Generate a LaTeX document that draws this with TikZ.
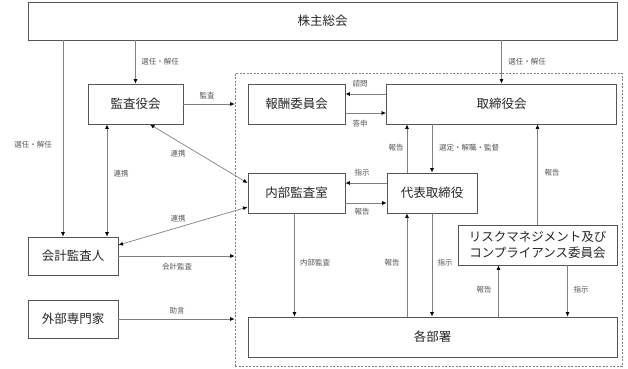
\documentclass[tikz,border=0pt]{standalone}
\usepackage{fontspec}
\setmainfont{Noto Sans CJK JP}
\usetikzlibrary{arrows.meta}
\definecolor{boxline}{HTML}{555555}
\definecolor{conn}{HTML}{808080}
\definecolor{lbl}{HTML}{555555}
\tikzset{
  box/.style={draw=boxline, line width=0.9pt, rectangle, inner sep=0pt, font=\fontsize{12.5}{15}\selectfont, text=black!85, align=center},
  grpbox/.style={draw=conn, line width=0.7pt, dash pattern=on 2pt off 1.5pt, rectangle, inner sep=0pt},
  arr/.style={draw=conn, line width=0.7pt, -{Latex[length=4.5pt,width=4pt,color=black]}},
  darr/.style={draw=conn, line width=0.7pt, {Latex[length=4.5pt,width=4pt,color=black]}-{Latex[length=4.5pt,width=4pt,color=black]}},
  plain/.style={draw=conn, line width=0.7pt},
  lab/.style={font=\fontsize{7.5}{9}\selectfont, text=lbl, inner sep=0pt}
}
\begin{document}
\begin{tikzpicture}[x=1pt,y=-1pt]
\useasboundingbox[fill=white] (0,0) rectangle (628,368);
% group
\node[grpbox, minimum width=387, minimum height=293] (grp) at (428.5,219.5) {};
% boxes
\node[box, minimum width=589, minimum height=38] (kabu) at (322.5,21) {株主総会};
\node[box, minimum width=95, minimum height=40] (kansa) at (135.5,104) {監査役会};
\node[box, minimum width=97, minimum height=40] (hoshu) at (296.5,104) {報酬委員会};
\node[box, minimum width=230, minimum height=40] (tori) at (501.5,104) {取締役会};
\node[box, minimum width=97, minimum height=40] (naibu) at (296.5,193) {内部監査室};
\node[box, minimum width=90, minimum height=40] (daihyo) at (432,193) {代表取締役};
\node[box, minimum width=159, minimum height=40, font=\fontsize{12.5}{16}\selectfont] (risk) at (537.5,245) {リスクマネジメント及び\\コンプライアンス委員会};
\node[box, minimum width=369, minimum height=40] (kakubu) at (432.5,337) {各部署};
\node[box, minimum width=90, minimum height=38] (kaikei) at (73,256) {会計監査人};
\node[box, minimum width=90, minimum height=38] (gaibu) at (73,319) {外部専門家};
% helper coordinates
\coordinate (kl) at ([xshift=-10pt]kabu.south -| kaikei.north);
\coordinate (kk) at ([xshift=-28.5pt]kansa.south);
\coordinate (d1) at ([xshift=-25pt]daihyo.south);
\coordinate (r1) at ([xshift=-39pt]risk.south);
\coordinate (r2) at ([xshift=30pt]risk.south);
% connectors from 株主総会
\draw[arr] (kabu.south -| kansa.north) -- (kansa.north);
\draw[arr] (kabu.south -| tori.north) -- (tori.north);
\draw[arr] (kl) -- (kl |- kaikei.north);
% 監査役会
\draw[arr] (kansa.east) -- (kansa.east -| grp.west);
\draw[darr] (kk) -- (kk |- kaikei.north);
\draw[darr] ([xshift=14.5pt]kansa.south) -- ([yshift=10pt]naibu.west);
\draw[darr] ([yshift=11pt]kaikei.east) -- ([yshift=-14pt]naibu.west);
% 取締役会 / 報酬委員会
\draw[arr] ([yshift=10pt]tori.west) -- ([yshift=10pt]tori.west -| hoshu.east);
\draw[arr] ([yshift=-9pt]hoshu.east) -- ([yshift=-9pt]hoshu.east -| tori.west);
% 代表取締役 / 内部監査室
\draw[arr] ([yshift=10pt]daihyo.west) -- ([yshift=10pt]daihyo.west -| naibu.east);
\draw[arr] ([yshift=-10pt]naibu.east) -- ([yshift=-10pt]naibu.east -| daihyo.west);
\draw[arr] ([xshift=-25pt]daihyo.north) -- ([xshift=-25pt]daihyo.north |- tori.south);
\draw[arr] (daihyo.north |- tori.south) -- (daihyo.north);
\draw[arr] (risk.north) -- (risk.north |- tori.south);
% to 各部署
\draw[arr] ([xshift=-2pt]naibu.south) -- ([xshift=-2pt]naibu.south |- kakubu.north);
\draw[arr] (d1 |- kakubu.north) -- (d1);
\draw[arr] (daihyo.south) -- (daihyo.south |- kakubu.north);
\draw[arr] (r1 |- kakubu.north) -- (r1);
\draw[arr] (r2) -- (r2 |- kakubu.north);
% left side to group
\draw[arr] (kaikei.east) -- (kaikei.east -| grp.west);
\draw[arr] (gaibu.east) -- (gaibu.east -| grp.west);
% labels
\node[lab] (l1) at (33,145) {選任・解任};
\node[lab] (l2) at (160,62) {選任・解任};
\node[lab] (l3) at (527,62) {選任・解任};
\node[lab] (l4) at (207,96) {監査};
\node[lab] (l5) at (360,84) {諮問};
\node[lab] (l6) at (360,124) {答申};
\node[lab] (l7) at (178,154) {連携};
\node[lab] (l8) at (121,174) {連携};
\node[lab] (l9) at (178,219) {連携};
\node[lab] (l10) at (396,148) {報告};
\node[lab] (l11) at (469,148) {選定・解職・監督};
\node[lab] (l12) at (362,173) {指示};
\node[lab] (l13) at (362,212) {報告};
\node[lab] (l14) at (552,173) {報告};
\node[lab] (l15) at (177,267) {会計監査};
\node[lab] (l16) at (177,311) {助言};
\node[lab] (l17) at (315,263) {内部監査};
\node[lab] (l18) at (392,263) {報告};
\node[lab] (l19) at (445,263) {指示};
\node[lab] (l20) at (484,290) {報告};
\node[lab] (l21) at (581,290) {指示};
\end{tikzpicture}
\end{document}
